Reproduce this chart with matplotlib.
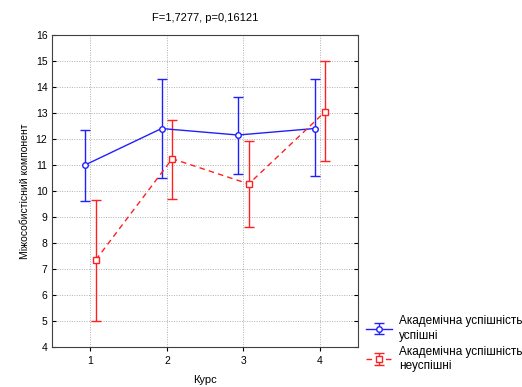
import numpy as np
import matplotlib
matplotlib.use("Agg")
import matplotlib.pyplot as plt

plt.rcParams["font.family"] = ["Liberation Sans", "DejaVu Sans"]

courses = [1, 2, 3, 4]
succ_mean = [11.0, 12.4, 12.15, 12.4]
succ_lo = [9.62, 10.5, 10.65, 10.58]
succ_hi = [12.35, 14.3, 13.62, 14.3]
fail_mean = [7.35, 11.24, 10.27, 13.05]
fail_lo = [5.0, 9.7, 8.63, 11.17]
fail_hi = [9.65, 12.73, 11.92, 15.0]
labels = ["Академічна успішність\nуспішні", "Академічна успішність\nнеуспішні"]

fig = plt.figure(figsize=(5.22, 3.87), dpi=100)
ax = fig.add_axes([0.1, 0.103, 0.586, 0.807])

x = np.array(courses, dtype=float)
off = 0.07
series = [
    (x - off, succ_mean, succ_lo, succ_hi, "#2020ff", "o", "-", labels[0]),
    (x + off, fail_mean, fail_lo, fail_hi, "#ff2020", "s", "--", labels[1]),
]
for xs, m, lo, hi, c, mk, ls, lab in series:
    m = np.array(m); err = [m - np.array(lo), np.array(hi) - m]
    ax.errorbar(xs, m, yerr=err, color=c, lw=1, ls=ls, marker=mk, ms=4,
                mfc="white", mec=c, mew=1, capsize=3.5, capthick=1,
                elinewidth=1, label=lab, dashes=(4, 3) if ls == "--" else (None, None))

ax.set_xlim(0.5, 4.5)
ax.set_ylim(4, 16)
ax.set_xticks(courses)
ax.set_yticks(range(4, 17))
ax.tick_params(labelsize=7.5, length=3)
ax.tick_params(axis="y", right=True, direction="in")
ax.grid(True, color="#b0b0b0", ls=(0, (1, 1.5)), lw=0.7)
for s in ax.spines.values():
    s.set_color("#404040")

ax.set_title("F=1,7277, p=0,16121", fontsize=8, pad=10)
ax.set_ylabel("Міжособистісний компонент", fontsize=7.5)
ax.set_xlabel("Курс", fontsize=8, labelpad=6)

leg = ax.legend(loc="upper left", bbox_to_anchor=(1.0, 0.13), frameon=False,
                fontsize=8.5, handlelength=2.2, borderaxespad=0.3, labelspacing=0.35,
                handletextpad=0.6)
for t in leg.get_texts():
    t.set_linespacing(1.3)

fig.savefig("out.png", dpi=100)
